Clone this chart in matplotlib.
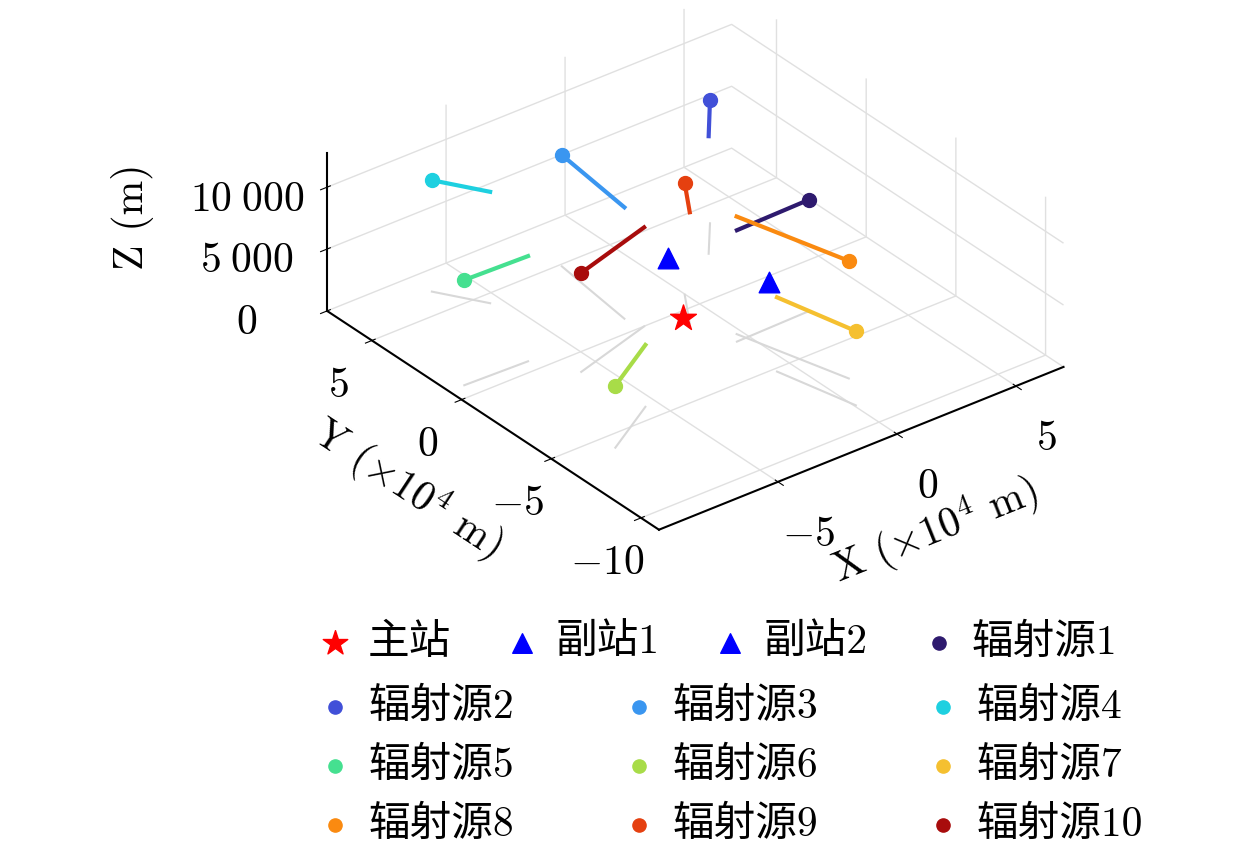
import matplotlib
matplotlib.use("Agg")
import matplotlib.pyplot as plt
import numpy as np

plt.rcParams['font.family'] = ['cmr10', 'Noto Sans CJK SC']
plt.rcParams['mathtext.fontset'] = 'cm'
plt.rcParams['axes.formatter.use_mathtext'] = True

main_xyz = (-1.0, -0.4, 0.0)
aux1_xyz = (1.0, 3.1, 0.0)
aux2_xyz = (2.7, -0.3, 0.0)

names = [f'辐射源{i}' for i in range(1, 11)]
colors = ['#2e1a6e', '#4150d8', '#3a96f0', '#1ed0e0', '#45e090',
          '#a8dc48', '#f5c030', '#fa8a10', '#e54010', '#a80c0c']
start_x = [-0.52, 2.22, -2.55, -5.44, -6.75, -5.49, -0.66, -0.23, -1.04, -2.34]
start_y = [-2.77, 2.44, 0.81, 4.46, 0.61, -4.26, -5.19, -2.37, -0.83, -0.01]
start_z = [9000, 9500, 9000, 9000, 8500, 5000, 6000, 9500, 9000, 8000]
end_x = [2.56, 3.46, -2.11, -6.5, -9.36, -7.89, 0.06, 0.94, -0.03, -5.78]
end_y = [-2.69, 4.01, 4.88, 6.3, 0.7, -5.77, -8.63, -7.07, 0.79, -1.07]
end_z = [9000, 10000, 9000, 9000, 8500, 5000, 6000, 9500, 9000, 8000]

XL, YL, ZL = (-10, 7), (-11, 7.5), (0, 12800)
FS = 30
fig = plt.figure(figsize=(12.6, 8.6), dpi=100)
ax = fig.add_axes([0.045, 0.318, 1.0, 0.74], projection='3d')
ax.set_proj_type('ortho')
ax.view_init(elev=31, azim=-128)
ax.set_box_aspect((1.0, 1.05, 0.36), zoom=1.17)

for i in range(10):
    ax.plot([start_x[i], end_x[i]], [start_y[i], end_y[i]], [0, 0],
            color='#d8d8d8', lw=1.5, zorder=1)
    ax.plot([start_x[i], end_x[i]], [start_y[i], end_y[i]], [start_z[i], end_z[i]],
            color=colors[i], lw=3, zorder=3)
    ax.scatter([end_x[i]], [end_y[i]], [end_z[i]], color=colors[i], s=100,
               depthshade=False, label=names[i], zorder=4)

ax.scatter(*[[v] for v in main_xyz], marker='*', color='red', s=380, depthshade=False, label='主站', zorder=5)
ax.scatter(*[[v] for v in aux1_xyz], marker='^', color='blue', s=220, depthshade=False, label='副站1', zorder=5)
ax.scatter(*[[v] for v in aux2_xyz], marker='^', color='blue', s=220, depthshade=False, label='副站2', zorder=5)

ax.set_xlim(*XL)
ax.set_ylim(*YL)
ax.set_zlim(*ZL)
ax.set_xticks([-5, 0, 5])
ax.set_xticklabels(['$-5$', '$0$', '$5$'], fontsize=FS)
ax.set_yticks([-10, -5, 0, 5])
ax.set_yticklabels(['$-10$', '$-5$', '$0$', '$5$'], fontsize=FS)
ax.set_zticks([0, 5000, 10000])
ax.set_zticklabels(['$0$', '$5\\;000$', '$10\\;000$'], fontsize=FS)
ax.set_xlabel('X ($\\times10^4$ m)', fontsize=FS, labelpad=32)
ax.set_ylabel('Y ($\\times10^4$ m)', fontsize=FS, labelpad=30)
ax.set_zlabel('Z (m)', fontsize=FS, labelpad=42)
ax.tick_params(axis='x', pad=14)
ax.tick_params(axis='y', pad=12)
ax.tick_params(axis='z', pad=18)

for a in (ax.xaxis, ax.yaxis, ax.zaxis):
    a.set_pane_color((1, 1, 1, 0))
    a._axinfo['grid']['color'] = '#e0e0e0'
    a._axinfo['grid']['linewidth'] = 1.0
    a.line.set_color('black')
    a.line.set_linewidth(1.5)

h, l = ax.get_legend_handles_labels()
hd = dict(zip(l, h))
row1 = ['主站', '副站1', '副站2', '辐射源1']
rest = [['辐射源2', '辐射源3', '辐射源4'],
        ['辐射源5', '辐射源6', '辐射源7'],
        ['辐射源8', '辐射源9', '辐射源10']]
kw = dict(frameon=False, fontsize=FS, handlelength=1.0, handletextpad=0.3,
          borderpad=0, borderaxespad=0, markerscale=0.95)
fig.legend([hd[n] for n in row1], row1, loc='upper left',
           bbox_to_anchor=(314 / 1260, 1 - 624 / 860), ncol=4, columnspacing=1.2, **kw)
order = [rest[r][c] for c in range(3) for r in range(3)]
fig.legend([hd[n] for n in order], order, loc='upper left',
           bbox_to_anchor=(314 / 1260, 1 - 688 / 860), ncol=3, columnspacing=2.5,
           labelspacing=0.5, **kw)
fig.savefig('out.png', dpi=100)
